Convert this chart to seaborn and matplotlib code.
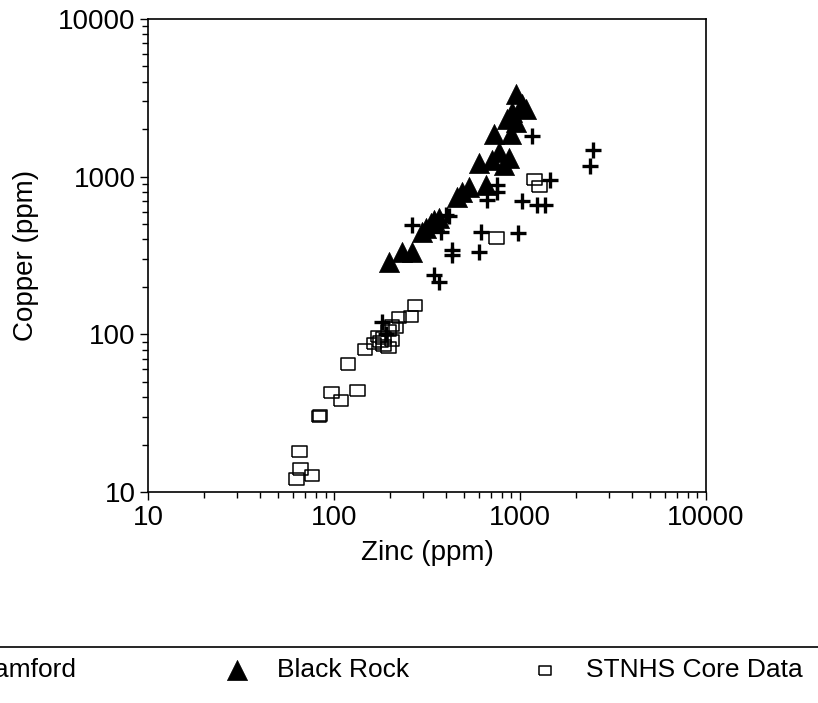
import numpy as np
import pandas as pd
import matplotlib
matplotlib.use("Agg")
import matplotlib.pyplot as plt
import matplotlib.ticker as mticker
from matplotlib.lines import Line2D
import seaborn as sns

# ==========================================
# Data
# ==========================================
stamford_zinc = [1167, 2460, 2371, 1442, 755, 755, 667, 1030, 1242, 1355,
                 401, 416, 262, 377, 620, 980, 432, 432, 604, 345, 367, 181, 190]
stamford_copper = [1824, 1466, 1175, 957, 889, 802, 714, 704, 663, 663,
                   573, 565, 494, 447, 447, 440, 343, 319, 333, 238, 214, 119, 100]

blackrock_zinc = [957, 1030, 1084, 910, 855, 957, 728, 899, 774, 877, 604, 710, 824,
                  533, 489, 659, 459, 332, 312, 345, 367, 297, 232, 262, 197]
blackrock_copper = [3327, 2878, 2675, 2558, 2307, 2208, 1852, 1852, 1444, 1322, 1228, 1283, 1192,
                    863, 802, 889, 746, 509, 473, 532, 548, 447, 333, 333, 288]

stnhs_zinc = [273, 260, 223, 205, 197, 174, 164, 185, 197, 147, 119, 97, 109, 134,
              83, 84, 65, 66, 76, 63, 1197, 1274, 747, 215, 185, 178, 205]
stnhs_copper = [153, 130, 128, 114, 106, 97, 88, 85, 83, 80, 65, 43, 38, 44,
                30, 30.5, 18, 14, 12.8, 12.1, 957, 863, 408, 110, 95, 90, 92]

axis_ticks = [10, 100, 1000, 10000]

# ==========================================
# Style
# ==========================================
sns.set_theme(style="ticks")
plt.rcParams.update({
    "font.family": ["Liberation Sans", "DejaVu Sans"],
    "font.size": 20,
    "axes.labelsize": 20,
    "xtick.labelsize": 20,
    "ytick.labelsize": 20,
    "text.color": "black",
    "axes.labelcolor": "black",
    "axes.linewidth": 1.2,
    "axes.edgecolor": "black",
    "xtick.color": "black",
    "ytick.color": "black",
    "xtick.major.size": 6,
    "ytick.major.size": 6,
    "xtick.minor.size": 4.5,
    "ytick.minor.size": 4.5,
    "xtick.major.width": 1.0,
    "ytick.major.width": 1.0,
    "xtick.minor.width": 1.0,
    "ytick.minor.width": 1.0,
})

fig = plt.figure(figsize=(8.18, 7.03), dpi=100)
ax = fig.add_axes([0.181, 0.300, 0.682, 0.673])

# hollow, slightly wide rectangle like the original's open boxes
rect_marker = [(-1.3, -1), (1.3, -1), (1.3, 1), (-1.3, 1), (-1.3, -1)]

sns.scatterplot(x=stamford_zinc, y=stamford_copper, marker="+", color="black",
                s=120, linewidth=2.4, ax=ax, label="Stamford", zorder=3)
sns.scatterplot(x=blackrock_zinc, y=blackrock_copper, marker="^", color="black",
                edgecolor="black", s=210, linewidth=0.5, ax=ax, label="Black Rock", zorder=4)
sns.scatterplot(x=stnhs_zinc, y=stnhs_copper, marker=rect_marker, color="black",
                facecolor="none", edgecolor="black", s=110, linewidth=1.1, ax=ax,
                label="STNHS Core Data", zorder=2)

ax.set_xscale("log")
ax.set_yscale("log")
ax.set_xlim(10, 10000)
ax.set_ylim(10, 10000)
ax.set_xticks(axis_ticks)
ax.set_yticks(axis_ticks)
ax.xaxis.set_major_formatter(mticker.FuncFormatter(lambda v, p: f"{v:g}"))
ax.yaxis.set_major_formatter(mticker.FuncFormatter(lambda v, p: f"{v:g}"))
ax.xaxis.set_minor_locator(mticker.LogLocator(base=10, subs=np.arange(2, 10)))
ax.yaxis.set_minor_locator(mticker.LogLocator(base=10, subs=np.arange(2, 10)))
ax.xaxis.set_minor_formatter(mticker.NullFormatter())
ax.yaxis.set_minor_formatter(mticker.NullFormatter())
ax.tick_params(which="both", direction="out", top=False, right=False, pad=3)

ax.set_xlabel("Zinc (ppm)", labelpad=7)
ax.set_ylabel("Copper (ppm)", labelpad=14)
for s in ax.spines.values():
    s.set_visible(True)

# --- Legend below the plot, one entry per block (left one runs off the page) ---
handles, labels = ax.get_legend_handles_labels()
ax.get_legend().remove()
legend_x = [-0.103, 0.273, 0.650]
for h, lab, lx in zip(handles, labels, legend_x):
    scale = 0.8 if lab == "STNHS Core Data" else 1.0
    fig.legend([h], [lab], loc="center left", bbox_to_anchor=(lx, 0.047),
               frameon=False, borderpad=0, borderaxespad=0, handlelength=1.0,
               handletextpad=1.05, markerscale=scale, fontsize=19)

fig.add_artist(Line2D([0, 1], [1 - 647 / 703] * 2, transform=fig.transFigure,
                      color="black", lw=1.2))

fig.savefig("out.png", dpi=100)
